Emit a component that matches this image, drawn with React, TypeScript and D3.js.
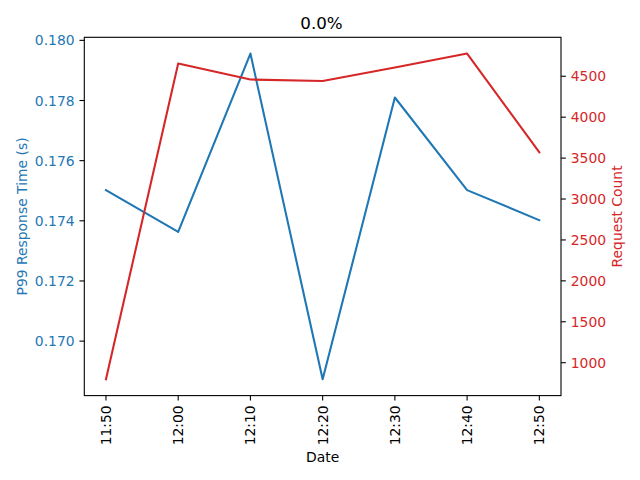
import React from "react";
import * as d3 from "d3";

const categories = ["11:50", "12:00", "12:10", "12:20", "12:30", "12:40", "12:50"];
const p99Values = [0.17502, 0.17363, 0.17956, 0.16873, 0.1781, 0.17502, 0.17402];
const requestCounts = [797, 4655, 4460, 4443, 4606, 4777, 3572];
const leftTicks = [0.17, 0.172, 0.174, 0.176, 0.178, 0.18];
const rightTicks = [1000, 1500, 2000, 2500, 3000, 3500, 4000, 4500];

const W = 640, H = 480;
const L = 84.3, R = 561, T = 37.3, B = 395.6;
const BLUE = "#1f77b4", RED = "#d62728";
const FONT = "DejaVu Sans, sans-serif";
const TICK = 4.86, PAD = 4.86, FS = 13.9;

function pad5(ext: [number, number]): [number, number] {
  const m = (ext[1] - ext[0]) * 0.05;
  return [ext[0] - m, ext[1] + m];
}

export default function App() {
  const x = d3.scaleLinear().domain(pad5([0, categories.length - 1])).range([L, R]);
  const yL = d3.scaleLinear().domain(pad5(d3.extent(p99Values) as [number, number])).range([B, T]);
  const yR = d3.scaleLinear().domain(pad5(d3.extent(requestCounts) as [number, number])).range([B, T]);

  const lineL = d3.line<number>().x((_, i) => x(i)).y((d) => yL(d));
  const lineR = d3.line<number>().x((_, i) => x(i)).y((d) => yR(d));

  return (
    <svg width={W} height={H} style={{ position: "absolute", left: 0, top: 0, background: "#fff" }} fontFamily={FONT}>
      <rect x={0} y={0} width={W} height={H} fill="#fff" />
      <path d={lineL(p99Values) || ""} fill="none" stroke={BLUE} strokeWidth={2.08} strokeLinejoin="round" strokeLinecap="square" />
      <path d={lineR(requestCounts) || ""} fill="none" stroke={RED} strokeWidth={2.08} strokeLinejoin="round" strokeLinecap="square" />
      <rect x={L} y={T} width={R - L} height={B - T} fill="none" stroke="#000" strokeWidth={1.1} />

      {categories.map((c, i) => (
        <g key={c}>
          <line x1={x(i)} x2={x(i)} y1={B} y2={B + TICK} stroke="#000" strokeWidth={1.1} />
          <text
            transform={`translate(${x(i) + 5},${B + TICK + PAD}) rotate(-90)`}
            textAnchor="end"
            fontSize={FS}
            fill="#000"
          >
            {c}
          </text>
        </g>
      ))}

      {leftTicks.map((t) => (
        <g key={t}>
          <line x1={L - TICK} x2={L} y1={yL(t)} y2={yL(t)} stroke="#000" strokeWidth={1.1} />
          <text x={L - TICK - PAD} y={yL(t)} dy="0.36em" textAnchor="end" fontSize={FS} fill={BLUE}>
            {d3.format(".3f")(t)}
          </text>
        </g>
      ))}

      {rightTicks.map((t) => (
        <g key={t}>
          <line x1={R} x2={R + TICK} y1={yR(t)} y2={yR(t)} stroke="#000" strokeWidth={1.1} />
          <text x={R + TICK + PAD} y={yR(t)} dy="0.36em" textAnchor="start" fontSize={FS} fill={RED}>
            {t}
          </text>
        </g>
      ))}

      <text x={321.5} y={29} textAnchor="middle" fontSize={16.7} fill="#000">0.0%</text>
      <text x={(L + R) / 2} y={462} textAnchor="middle" fontSize={FS} fill="#000">Date</text>
      <text transform={`translate(26.5,${(T + B) / 2}) rotate(-90)`} textAnchor="middle" fontSize={FS} fill={BLUE}>
        P99 Response Time (s)
      </text>
      <text transform={`translate(622,${(T + B) / 2}) rotate(-90)`} textAnchor="middle" fontSize={FS} fill={RED}>
        Request Count
      </text>
    </svg>
  );
}
